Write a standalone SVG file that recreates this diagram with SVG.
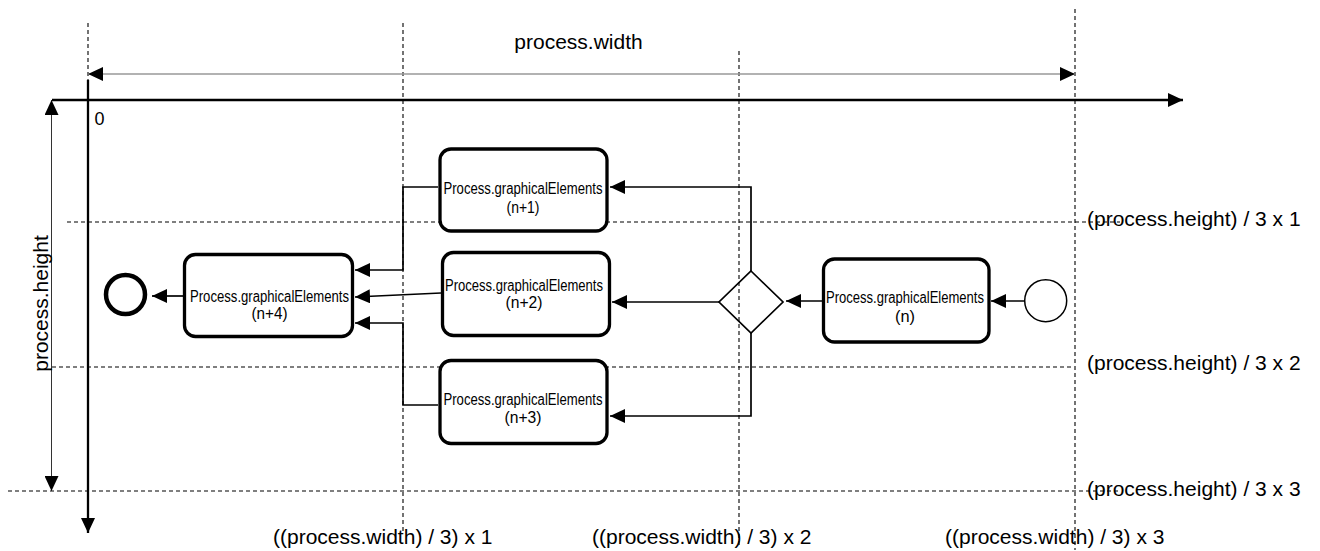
<svg xmlns="http://www.w3.org/2000/svg" width="1320" height="551" viewBox="0 0 1320 551">
  <style>
    .dash { stroke: #000; stroke-width: 1.1; stroke-dasharray: 4 3; fill: none; }
    .big { font-family: "Liberation Sans", Arial, sans-serif; font-size: 21px; fill: #000; }
    .lbl { font-family: "Liberation Sans", Arial, sans-serif; font-size: 16px; fill: #000; text-anchor: middle; }
    .task { fill: #fff; stroke: #000; stroke-width: 3.3; }
    .conn { fill: none; stroke: #000; stroke-width: 1.7; marker-end: url(#arr); }
    .axis { fill: none; stroke: #000; stroke-width: 2.3; marker-end: url(#arr); }
  </style>
  <defs>
    <marker id="arr" markerUnits="userSpaceOnUse" markerWidth="15" markerHeight="14" refX="15" refY="7" orient="auto-start-reverse" viewBox="0 0 15 14">
      <path d="M0,0 L15,7 L0,14 z" fill="#000"/>
    </marker>
  </defs>
  <rect width="1320" height="551" fill="#fff"/>

  <g id="guides">
    <line class="dash" x1="88" y1="23" x2="88" y2="100"/>
    <line class="dash" x1="403" y1="23" x2="403" y2="532"/>
    <line class="dash" x1="739" y1="51" x2="739" y2="548"/>
    <line class="dash" x1="1075" y1="9" x2="1075" y2="550"/>
    <line class="dash" x1="67" y1="222" x2="1120" y2="222"/>
    <line class="dash" x1="52" y1="367" x2="1072" y2="367"/>
    <line class="dash" x1="8" y1="491" x2="1120" y2="491"/>
  </g>

  <g id="dimensions">
    <line x1="88" y1="74" x2="1075" y2="74" stroke="#999" stroke-width="1.3" marker-start="url(#arr)" marker-end="url(#arr)"/>
    <line x1="51.5" y1="100" x2="51.5" y2="491" stroke="#333" stroke-width="1" marker-start="url(#arr)" marker-end="url(#arr)"/>
    <line class="axis" x1="52" y1="100" x2="1183" y2="100"/>
    <line class="axis" x1="88" y1="80" x2="88" y2="533"/>
  </g>

  <g id="labels">
    <text class="big" x="578.5" y="49" text-anchor="middle">process.width</text>
    <text class="big" transform="translate(48,303.5) rotate(-90)" text-anchor="middle">process.height</text>
    <text x="94.5" y="125" font-family="Liberation Sans, Arial, sans-serif" font-size="18">0</text>
    <text class="big" x="1087" y="226">(process.height) / 3 x 1</text>
    <text class="big" x="1087" y="370">(process.height) / 3 x 2</text>
    <text class="big" x="1087" y="496">(process.height) / 3 x 3</text>
    <text class="big" x="273" y="544">((process.width) / 3) x 1</text>
    <text class="big" x="592" y="544">((process.width) / 3) x 2</text>
    <text class="big" x="945" y="544">((process.width) / 3) x 3</text>
  </g>

  <g id="connectors">
    <path class="conn" d="M1024,301 L991,301"/>
    <path class="conn" d="M822,301 L786,301"/>
    <path class="conn" d="M751,271 L751,187 L610,187"/>
    <path class="conn" d="M719,302 L612,302"/>
    <path class="conn" d="M751,333 L751,416 L610,416"/>
    <path class="conn" d="M438,187 L403,187 L403,270 L355,270"/>
    <path class="conn" d="M441,293 L355,297"/>
    <path class="conn" d="M438,405 L403,405 L403,323 L355,323"/>
    <path class="conn" d="M183,296 L152,296"/>
  </g>

  <g id="start">
    <circle cx="1045.7" cy="300.7" r="21" fill="#fff" stroke="#000" stroke-width="1.5"/>
  </g>
  <g id="task-n">
    <rect class="task" x="823.5" y="259" width="165.5" height="83" rx="11"/>
    <text class="lbl" x="905" y="302.7" textLength="158" lengthAdjust="spacingAndGlyphs">Process.graphicalElements</text>
    <text class="lbl" x="905" y="321.5" textLength="20" lengthAdjust="spacingAndGlyphs">(n)</text>
  </g>
  <g id="gateway">
    <polygon points="751,271 783,302 751,333 719,302" fill="none" stroke="#000" stroke-width="1.7"/>
  </g>
  <g id="task-n1">
    <rect class="task" x="440" y="149" width="167" height="82" rx="11"/>
    <text class="lbl" x="523" y="194.3" textLength="159" lengthAdjust="spacingAndGlyphs">Process.graphicalElements</text>
    <text class="lbl" x="523" y="213.3" textLength="33" lengthAdjust="spacingAndGlyphs">(n+1)</text>
  </g>
  <g id="task-n2">
    <rect class="task" x="442.5" y="252.5" width="167" height="83" rx="11"/>
    <text class="lbl" x="524" y="290.7" textLength="158" lengthAdjust="spacingAndGlyphs">Process.graphicalElements</text>
    <text class="lbl" x="524" y="308.3" textLength="37" lengthAdjust="spacingAndGlyphs">(n+2)</text>
  </g>
  <g id="task-n3">
    <rect class="task" x="440" y="360.5" width="167" height="83" rx="11"/>
    <text class="lbl" x="523" y="405" textLength="159" lengthAdjust="spacingAndGlyphs">Process.graphicalElements</text>
    <text class="lbl" x="523" y="423" textLength="37" lengthAdjust="spacingAndGlyphs">(n+3)</text>
  </g>
  <g id="task-n4">
    <rect class="task" x="184.5" y="254.5" width="168" height="82" rx="11"/>
    <text class="lbl" x="269.5" y="301.7" textLength="159" lengthAdjust="spacingAndGlyphs">Process.graphicalElements</text>
    <text class="lbl" x="269.5" y="319" textLength="36" lengthAdjust="spacingAndGlyphs">(n+4)</text>
  </g>
  <g id="end">
    <circle cx="125.5" cy="294.5" r="19.5" fill="#fff" stroke="#000" stroke-width="4.5"/>
  </g>
</svg>
